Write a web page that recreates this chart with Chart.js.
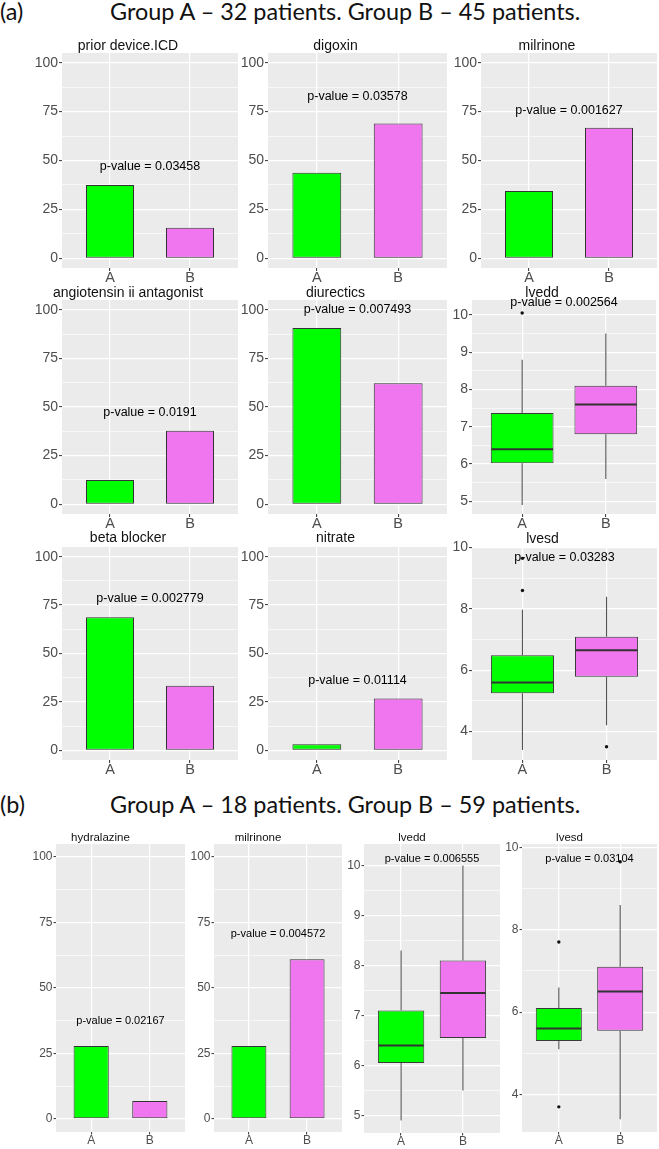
<!DOCTYPE html>
<html><head><meta charset="utf-8">
<script src="https://cdn.jsdelivr.net/npm/chart.js@4.4.1/dist/chart.umd.min.js"></script>
<style>
html,body{margin:0;padding:0;background:#fff;}
body{width:659px;height:1149px;position:relative;overflow:hidden;}
canvas{position:absolute;}
.hd{position:absolute;font-family:Lato,"Open Sans",sans-serif;color:#111;white-space:nowrap;line-height:1;}
</style></head><body>
<div class="hd" id="tagA">(a)</div>
<div class="hd" id="headA">Group A – 32 patients. Group B – 45 patients.</div>
<div class="hd" id="tagB">(b)</div>
<div class="hd" id="headB">Group A – 18 patients. Group B – 59 patients.</div>
<script>
// ---------- data ----------
const groupLabels = ['A', 'B'];
const percentTicks = [0, 25, 50, 75, 100];
const percentMinorTicks = [12.5, 37.5, 62.5, 87.5];
const lveddTicks = [5, 6, 7, 8, 9, 10];
const lveddMinorTicks = [5.5, 6.5, 7.5, 8.5, 9.5];
const lvesdTicks = [4, 6, 8, 10];
const lvesdMinorTicks = [5, 7, 9];

// (a) percentage panels
const barTitles_a = ['prior device.ICD', 'digoxin', 'milrinone', 'angiotensin ii antagonist', 'diurectics', 'beta blocker', 'nitrate'];
const barGroupA_a = [37.5, 43.75, 34.4, 12.5, 90.6, 68.75, 3.1];
const barGroupB_a = [15.6, 68.9, 66.7, 37.8, 62.2, 33.3, 26.7];
const barPValues_a = ['0.03458', '0.03578', '0.001627', '0.0191', '0.007493', '0.002779', '0.01114'];
const barPLabelAt_a = [46.8, 82.7, 75.5, 47.1, 100.3, 78.4, 36.1];

// (a) box panels: [lower whisker, Q1, median, Q3, upper whisker]
const lveddBoxA_a = [4.9, 6.02, 6.4, 7.37, 8.8];
const lveddBoxB_a = [5.6, 6.8, 7.6, 8.1, 9.5];
const lveddOutA_a = [10.05];
const lveddOutB_a = [];
const lveddP_a = '0.002564';
const lveddPAt_a = 10.32;

const lvesdBoxA_a = [3.4, 5.25, 5.6, 6.49, 7.97];
const lvesdBoxB_a = [4.2, 5.79, 6.65, 7.09, 8.4];
const lvesdOutA_a = [8.6, 9.65];
const lvesdOutB_a = [3.5];
const lvesdP_a = '0.03283';
const lvesdPAt_a = 9.69;

// (b) percentage panels
const barTitles_b = ['hydralazine', 'milrinone'];
const barGroupA_b = [27.8, 27.8];
const barGroupB_b = [6.8, 61.0];
const barPValues_b = ['0.02167', '0.004572'];
const barPLabelAt_b = [37.5, 70.5];

// (b) box panels
const lveddBoxA_b = [4.9, 6.05, 6.4, 7.1, 8.3];
const lveddBoxB_b = [5.5, 6.55, 7.45, 8.1, 10.0];
const lveddOutA_b = [];
const lveddOutB_b = [];
const lveddP_b = '0.006555';
const lveddPAt_b = 10.14;

const lvesdBoxA_b = [5.1, 5.3, 5.6, 6.1, 6.6];
const lvesdBoxB_b = [3.4, 5.55, 6.5, 7.1, 8.6];
const lvesdOutA_b = [7.7, 3.7];
const lvesdOutB_b = [9.65];
const lvesdP_b = '0.03104';
const lvesdPAt_b = 9.72;

// ---------- style / layout ----------
const GREEN = '#00FF00', PINK = '#EF76EE';
const FONT = '"Liberation Sans", Arial, Helvetica, sans-serif';
const styleA = {tick: 14, xlab: 14.5, title: 14, p: 12.5, W: 44, H: 22, tickLen: 3};
const styleB = {tick: 12, xlab: 12, title: 11.5, p: 11, W: 40, H: 20, tickLen: 2.5};

const barLayout_a = [
  {L: 62, R: 238, T: 53, B: 268, tY: 46},
  {L: 268, R: 447, T: 53, B: 268, tY: 46},
  {L: 481, R: 657, T: 53, B: 268, tY: 46},
  {L: 62, R: 238, T: 300, B: 514, tY: 293},
  {L: 268, R: 447, T: 300, B: 514, tY: 293},
  {L: 62, R: 238, T: 547, B: 760, tY: 538},
  {L: 268, R: 447, T: 547, B: 760, tY: 538}
];
const barLayout_b = [
  {L: 56, R: 185, T: 844, B: 1132, tY: 838},
  {L: 214, R: 342, T: 844, B: 1132, tY: 838}
];

function buildPanel(spec) {
  const st = spec.style;
  const top = Math.round(spec.tY - st.title / 2);
  const left = spec.L - st.W;
  const cv = document.createElement('canvas');
  cv.width = spec.R - left;
  cv.height = spec.B + st.H - top;
  cv.style.left = left + 'px';
  cv.style.top = top + 'px';
  document.body.appendChild(cv);
  const padBottom = spec.T - top - st.title;
  const majors = spec.majors;
  const allTicks = majors.concat(spec.minors).sort((a, b) => a - b);
  const isMajor = v => majors.indexOf(v) >= 0;

  const datasets = [];
  if (spec.kind === 'bar') {
    datasets.push({
      type: 'bar',
      data: groupLabels.map((g, i) => ({x: i + 1, y: spec.values[i]})),
      backgroundColor: [GREEN, PINK], borderColor: '#333', borderWidth: 1,
      borderSkipped: false, barPercentage: 0.6, categoryPercentage: 1
    });
  } else {
    datasets.push({
      type: 'bar',
      data: spec.boxes.map((b, i) => ({x: i + 1, y: [b[1], b[3]]})),
      backgroundColor: [GREEN, PINK], borderColor: '#3a3a3a', borderWidth: 1,
      borderSkipped: false, barPercentage: 0.75, categoryPercentage: 1
    });
    const pts = [];
    spec.outliers.forEach((arr, i) => arr.forEach(v => pts.push({x: i + 1, y: v})));
    datasets.push({
      type: 'scatter', data: pts, pointRadius: 1.7, pointHoverRadius: 1.7,
      pointBackgroundColor: '#111', pointBorderWidth: 0
    });
  }

  const overlay = {
    id: 'overlay',
    beforeDraw(chart) {
      const a = chart.chartArea, c = chart.ctx;
      c.save(); c.fillStyle = '#EBEBEB';
      c.fillRect(a.left, a.top, a.right - a.left, a.bottom - a.top);
      c.restore();
    },
    beforeDatasetsDraw(chart) {
      if (spec.kind !== 'box') return;
      const xs = chart.scales.x, ys = chart.scales.y, c = chart.ctx;
      c.save(); c.strokeStyle = '#555'; c.lineWidth = 1.1;
      spec.boxes.forEach((b, i) => {
        const px = xs.getPixelForValue(i + 1);
        c.beginPath();
        c.moveTo(px, ys.getPixelForValue(b[3])); c.lineTo(px, ys.getPixelForValue(b[4]));
        c.moveTo(px, ys.getPixelForValue(b[1])); c.lineTo(px, ys.getPixelForValue(b[0]));
        c.stroke();
      });
      c.restore();
    },
    afterDatasetsDraw(chart) {
      const xs = chart.scales.x, ys = chart.scales.y, c = chart.ctx;
      c.save();
      if (spec.kind === 'box') {
        const meta = chart.getDatasetMeta(0);
        c.strokeStyle = '#333'; c.lineWidth = 2;
        spec.boxes.forEach((b, i) => {
          const el = meta.data[i];
          const py = ys.getPixelForValue(b[2]);
          c.beginPath();
          c.moveTo(el.x - el.width / 2 + 0.5, py); c.lineTo(el.x + el.width / 2 - 0.5, py);
          c.stroke();
        });
      }
      c.fillStyle = '#000';
      c.font = st.p + 'px ' + FONT;
      c.textAlign = 'center'; c.textBaseline = 'middle';
      c.fillText('p-value = ' + spec.p, xs.getPixelForValue(1.5), ys.getPixelForValue(spec.pAt));
      c.restore();
    }
  };

  new Chart(cv, {
    type: 'bar',
    data: {datasets},
    options: {
      responsive: false, animation: false, events: [],
      layout: {padding: 0, autoPadding: false},
      plugins: {
        legend: {display: false}, tooltip: {enabled: false},
        title: {display: true, text: spec.title, color: '#111',
          font: {family: FONT, size: st.title, lineHeight: 1, weight: 'normal'},
          padding: {top: 0, bottom: padBottom}}
      },
      scales: {
        x: {
          type: 'linear', min: 0.4, max: 2.6, offset: false,
          afterBuildTicks: s => { s.ticks = [{value: 1}, {value: 2}]; },
          afterFit: s => { s.height = st.H; },
          grid: {offset: false, color: '#fff', lineWidth: 1.2, drawTicks: true,
            tickLength: st.tickLen, tickColor: '#333', tickWidth: 1},
          border: {display: false},
          ticks: {padding: 0, color: '#4D4D4D', autoSkip: false, maxRotation: 0,
            font: {family: FONT, size: st.xlab, lineHeight: 1},
            callback: v => groupLabels[Math.round(v) - 1]}
        },
        y: {
          type: 'linear', min: spec.yMin, max: spec.yMax,
          afterBuildTicks: s => { s.ticks = allTicks.map(v => ({value: v})); },
          afterFit: s => { s.width = st.W; },
          grid: {color: '#fff',
            lineWidth: ctx => (ctx.tick && isMajor(ctx.tick.value)) ? 1.2 : 0.6,
            drawTicks: true, tickLength: st.tickLen, tickWidth: 1,
            tickColor: ctx => (ctx.tick && isMajor(ctx.tick.value)) ? '#333' : 'rgba(0,0,0,0)'},
          border: {display: false},
          ticks: {padding: 1, color: '#4D4D4D', autoSkip: false,
            font: {family: FONT, size: st.tick, lineHeight: 1},
            callback: v => isMajor(v) ? String(v) : ''}
        }
      }
    },
    plugins: [overlay]
  });
}

// (a) bar panels
barTitles_a.forEach((t, i) => {
  buildPanel(Object.assign({}, barLayout_a[i], {
    kind: 'bar', style: styleA, title: t,
    values: [barGroupA_a[i], barGroupB_a[i]],
    p: barPValues_a[i], pAt: barPLabelAt_a[i],
    yMin: -5, yMax: 105, majors: percentTicks, minors: percentMinorTicks
  }));
});
// (a) box panels
buildPanel({L: 472, R: 656, T: 300, B: 514, tY: 293, kind: 'box', style: styleA, title: 'lvedd',
  boxes: [lveddBoxA_a, lveddBoxB_a], outliers: [lveddOutA_a, lveddOutB_a],
  p: lveddP_a, pAt: lveddPAt_a, yMin: 4.66, yMax: 10.4, majors: lveddTicks, minors: lveddMinorTicks});
buildPanel({L: 472, R: 657, T: 547, B: 760, tY: 539, kind: 'box', style: styleA, title: 'lvesd',
  boxes: [lvesdBoxA_a, lvesdBoxB_a], outliers: [lvesdOutA_a, lvesdOutB_a],
  p: lvesdP_a, pAt: lvesdPAt_a, yMin: 3.07, yMax: 10.02, majors: lvesdTicks, minors: lvesdMinorTicks});

// (b) bar panels
barTitles_b.forEach((t, i) => {
  buildPanel(Object.assign({}, barLayout_b[i], {
    kind: 'bar', style: styleB, title: t,
    values: [barGroupA_b[i], barGroupB_b[i]],
    p: barPValues_b[i], pAt: barPLabelAt_b[i],
    yMin: -5, yMax: 105, majors: percentTicks, minors: percentMinorTicks
  }));
});
// (b) box panels
buildPanel({L: 364, R: 500, T: 844, B: 1133, tY: 838, kind: 'box', style: styleB, title: 'lvedd',
  boxes: [lveddBoxA_b, lveddBoxB_b], outliers: [lveddOutA_b, lveddOutB_b],
  p: lveddP_b, pAt: lveddPAt_b, yMin: 4.65, yMax: 10.43, majors: lveddTicks, minors: lveddMinorTicks});
buildPanel({L: 522, R: 657, T: 844, B: 1132, tY: 838, kind: 'box', style: styleB, title: 'lvesd',
  boxes: [lvesdBoxA_b, lvesdBoxB_b], outliers: [lvesdOutA_b, lvesdOutB_b],
  p: lvesdP_b, pAt: lvesdPAt_b, yMin: 3.09, yMax: 10.08, majors: lvesdTicks, minors: lvesdMinorTicks});

// ---------- headings ----------
function placeHeading(tagId, headId, baseline) {
  const tag = document.getElementById(tagId), head = document.getElementById(headId);
  const c = document.createElement('canvas').getContext('2d');
  c.font = '100px Lato';
  const w = c.measureText(head.textContent).width;
  const size = 100 * 472 / w;
  [tag, head].forEach(el => {
    el.style.fontSize = size + 'px';
    el.style.top = (baseline - 0.887 * size) + 'px';
  });
  tag.style.left = '0px';
  head.style.left = '110px';
}
placeHeading('tagA', 'headA', 20.7);
placeHeading('tagB', 'headB', 813.3);
</script>
</body></html>
